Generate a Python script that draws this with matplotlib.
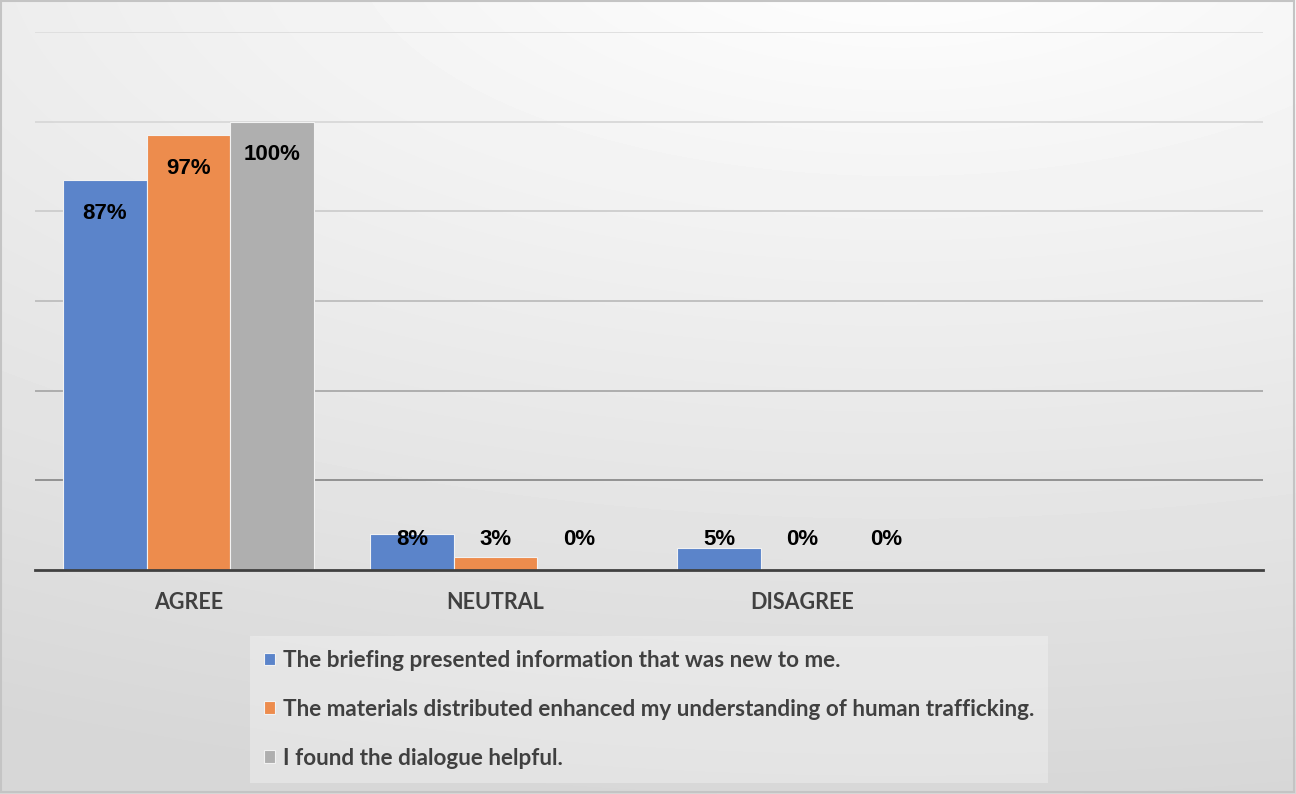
import numpy as np
import matplotlib
matplotlib.use("Agg")
import matplotlib.pyplot as plt
from matplotlib.patches import Rectangle

# ---- data ----
categories = ["AGREE", "NEUTRAL", "DISAGREE"]
n_slots = 4  # chart reserves an empty fourth category slot
series_names = [
    "The briefing presented information that was new to me.",
    "The materials distributed enhanced my understanding of human trafficking.",
    "I found the dialogue helpful.",
]
briefing = [87, 8, 5]
materials = [97, 3, 0]
dialogue = [100, 0, 0]
series_values = [briefing, materials, dialogue]
series_colors = ["#5B84CA", "#ED8C4D", "#AFAFAF"]
grid_levels = [20, 40, 60, 80, 100, 120]
grid_colors = ["#8c8c8c", "#a9a9a9", "#bdbdbd", "#cdcdcd", "#d8d8d8", "#dedede"]

W, H = 1296, 794
fig = plt.figure(figsize=(W / 100, H / 100), dpi=100)

# ---- gradient background ----
bg = fig.add_axes([0, 0, 1, 1], zorder=-10)
yy, xx = np.mgrid[0:H, 0:W]
r = np.sqrt(((xx - 900) / 2000.0) ** 2 + ((yy + 60) / 860.0) ** 2)
v = 255 - 40 * np.clip(r, 0, 1)
bg.imshow(v, cmap="gray", vmin=0, vmax=255, extent=[0, W, H, 0], aspect="auto")
bg.set_xlim(0, W)
bg.set_ylim(H, 0)
bg.axis("off")
bg.add_patch(Rectangle((1, 1), W - 3, H - 3, fill=False, edgecolor="#c4c4c4", lw=1.5))

# ---- main axes ----
left, right, top, bottom = 35, 1263, 32, 570
ax = fig.add_axes([left / W, (H - bottom) / H, (right - left) / W, (bottom - top) / H])
ax.patch.set_alpha(0)
ax.set_xlim(-0.5, n_slots - 0.5)
ax.set_ylim(0, 120)

for lvl, c in zip(grid_levels, grid_colors):
    ax.axhline(lvl, color=c, lw=1.3, zorder=0)

bw = 0.272
x = np.arange(len(categories))
handles = []
for j, (vals, col, name) in enumerate(zip(series_values, series_colors, series_names)):
    xs = x + (j - 1) * bw
    b = ax.bar(xs, vals, width=bw, color=col, edgecolor="#f2f2f2", linewidth=0.8,
               label=name, zorder=2)
    handles.append(b)
    for xi, val in zip(xs, vals):
        ax.text(xi, max(val - 7.4, 6.7), f"{val}%", ha="center", va="center",
                fontsize=16, fontweight="bold", family="Liberation Sans",
                color="black", zorder=3)

for s in ["left", "right", "top"]:
    ax.spines[s].set_visible(False)
ax.spines["bottom"].set_color("#404040")
ax.spines["bottom"].set_linewidth(2.0)
ax.spines["bottom"].set_zorder(4)
ax.set_yticks([])
ax.set_xticks(x)
ax.set_xticklabels(categories, fontsize=15.5, fontweight="bold", family="Lato",
                   color="#404040")
ax.tick_params(axis="x", length=0, pad=16)

leg = fig.legend(handles=handles, labels=series_names, loc="upper left",
                 bbox_to_anchor=(250 / W, 1 - 636 / H), frameon=True,
                 prop={"family": "Lato", "weight": "bold", "size": 16.2},
                 labelcolor="#404040", handlelength=0.5, handleheight=0.5,
                 handletextpad=0.35, labelspacing=1.24, borderpad=0.62,
                 borderaxespad=0, fancybox=False, framealpha=0.3)
leg.get_frame().set_facecolor("white")
leg.get_frame().set_edgecolor("none")

fig.savefig("out.png", dpi=100)
